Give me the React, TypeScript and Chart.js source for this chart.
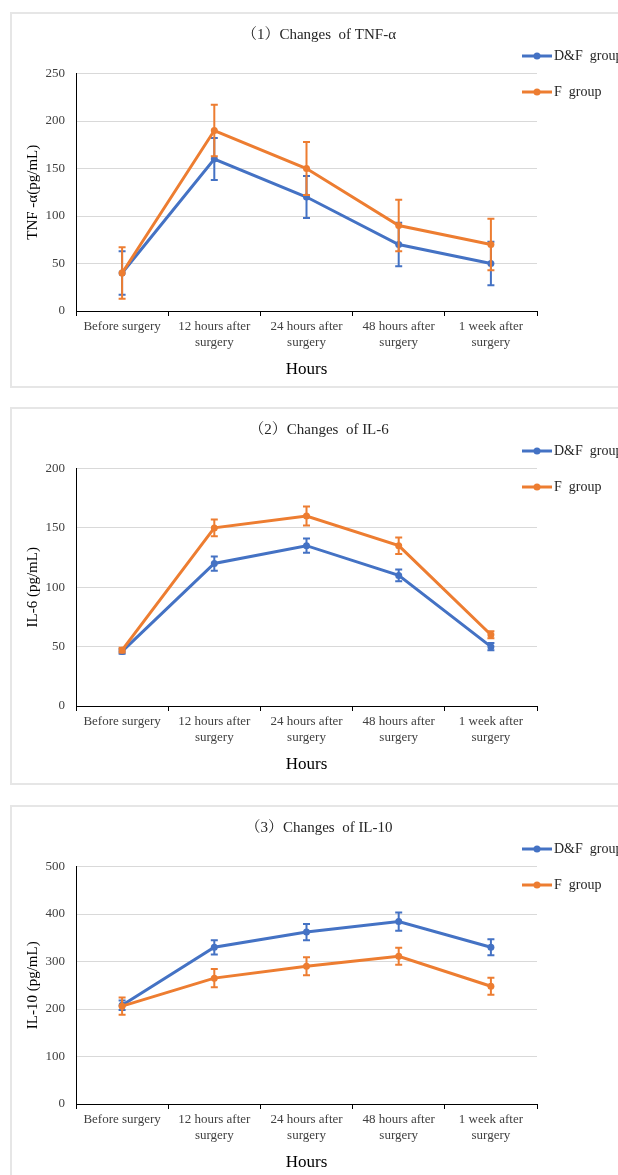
import React, { useEffect, useRef } from "react";
import { Chart, registerables } from "chart.js";
Chart.register(...registerables);

const categories: string[][] = [
  ["Before surgery"],
  ["12 hours after", "surgery"],
  ["24 hours after", "surgery"],
  ["48 hours after", "surgery"],
  ["1 week after", "surgery"],
];
const groupNames = ["D&F  group", "F  group"];
const groupColors = ["#4472C4", "#ED7D31"];
const xTitle = "Hours";

const tnfDF = [40, 160, 120, 70, 50];
const tnfDFErr = [23, 22, 22, 23, 23];
const tnfF = [40, 190, 150, 90, 70];
const tnfFErr = [27, 27, 28, 27, 27];

const il6DF = [46, 120, 135, 110, 50];
const il6DFErr = [2, 6, 6, 5, 3];
const il6F = [47, 150, 160, 135, 60];
const il6FErr = [2, 7, 8, 7, 3];

const il10DF = [208, 330, 362, 384, 330];
const il10DFErr = [10, 15, 17, 19, 17];
const il10F = [206, 265, 290, 311, 248];
const il10FErr = [18, 19, 19, 18, 18];

const panelTitles = ["（1）Changes  of TNF-α", "（2）Changes  of IL-6", "（3）Changes  of IL-10"];
const yTitles = ["TNF -α(pg/mL)", "IL-6 (pg/mL)", "IL-10 (pg/mL)"];
const yMaxes = [250, 200, 500];
const ySteps = [50, 50, 100];

const SERIF = "'Liberation Serif', 'Times New Roman', 'Noto Serif CJK SC', 'Noto Sans CJK SC', serif";
const TEXT = "#404040";
const CW = 660;
const CH = 380;
const AREA_TOP = 61.5;
const AREA_BOTTOM = 299;
const AREA_LEFT = 76;
const AREA_RIGHT = 537;
const XAXIS_H = 76;

type PanelProps = {
  top: number;
  boxH: number;
  title: string;
  yTitle: string;
  df: number[];
  dfErr: number[];
  f: number[];
  fErr: number[];
  yMax: number;
  yStep: number;
};

function Panel(p: PanelProps) {
  const ref = useRef<HTMLCanvasElement>(null);
  useEffect(() => {
    if (!ref.current) return;
    const overlay = {
      id: "overlay",
      afterDatasetDraw(chart: any, args: any) {
        const ds = chart.data.datasets[args.index];
        const errs: number[] = ds.errors;
        const yScale = chart.scales.y;
        const ctx = chart.ctx;
        ctx.save();
        ctx.strokeStyle = ds.borderColor;
        ctx.lineWidth = 2;
        args.meta.data.forEach((pt: any, i: number) => {
          const v = ds.data[i];
          const e = errs[i];
          const y1 = yScale.getPixelForValue(v + e);
          const y2 = yScale.getPixelForValue(v - e);
          const x = pt.x;
          ctx.beginPath();
          ctx.moveTo(x, y1);
          ctx.lineTo(x, y2);
          ctx.moveTo(x - 3.5, y1);
          ctx.lineTo(x + 3.5, y1);
          ctx.moveTo(x - 3.5, y2);
          ctx.lineTo(x + 3.5, y2);
          ctx.stroke();
        });
        ctx.restore();
      },
      afterDraw(chart: any) {
        const ctx = chart.ctx;
        ctx.save();
        ctx.fillStyle = "#262626";
        ctx.font = `15px ${SERIF}`;
        ctx.textAlign = "center";
        ctx.textBaseline = "middle";
        ctx.fillText(p.title, 319, 23);
        const ly = [44, 80];
        chart.data.datasets.forEach((ds: any, i: number) => {
          const y = ly[i];
          ctx.strokeStyle = ds.borderColor;
          ctx.lineWidth = 3;
          ctx.beginPath();
          ctx.moveTo(522, y);
          ctx.lineTo(552, y);
          ctx.stroke();
          ctx.fillStyle = ds.borderColor;
          ctx.beginPath();
          ctx.arc(537, y, 3.5, 0, Math.PI * 2);
          ctx.fill();
          ctx.fillStyle = "#262626";
          ctx.font = `14px ${SERIF}`;
          ctx.textAlign = "left";
          ctx.fillText(ds.label, 554, y);
        });
        ctx.restore();
      },
    };
    const mk = (i: number, data: number[], errs: number[], order: number) => ({
      label: groupNames[i],
      data,
      errors: errs,
      borderColor: groupColors[i],
      backgroundColor: groupColors[i],
      pointBackgroundColor: groupColors[i],
      pointBorderColor: groupColors[i],
      pointBorderWidth: 0,
      pointRadius: 3.5,
      borderWidth: 3,
      tension: 0,
      order,
    });
    const chart = new Chart(ref.current, {
      type: "line",
      data: {
        labels: categories as any,
        datasets: [mk(0, p.df, p.dfErr, 1), mk(1, p.f, p.fErr, 0)] as any,
      },
      options: {
        responsive: false,
        animation: false,
        layout: {
          padding: {
            top: AREA_TOP,
            left: 0,
            right: CW - AREA_RIGHT,
            bottom: CH - AREA_BOTTOM - XAXIS_H,
          },
        },
        plugins: {
          legend: { display: false },
          title: { display: false },
          tooltip: { enabled: false },
        },
        scales: {
          x: {
            type: "category",
            offset: true,
            grid: {
              offset: true,
              drawOnChartArea: false,
              drawTicks: true,
              tickLength: 5,
              color: "#000",
              lineWidth: 1,
            },
            border: { display: true, color: "#000", width: 1 },
            ticks: {
              color: TEXT,
              font: { family: SERIF, size: 13, lineHeight: 1.22 },
              padding: 3,
              maxRotation: 0,
              autoSkip: false,
            },
            title: {
              display: true,
              text: xTitle,
              color: "#000",
              font: { family: SERIF, size: 17 },
              padding: { top: 0, bottom: 7 },
            },
            afterFit: (s: any) => {
              s.height = XAXIS_H;
            },
          },
          y: {
            min: 0,
            max: p.yMax,
            ticks: {
              stepSize: p.yStep,
              color: TEXT,
              font: { family: SERIF, size: 13 },
              padding: 11,
            },
            grid: { color: "#d9d9d9", drawTicks: false, lineWidth: 1 },
            border: { display: true, color: "#000", width: 1 },
            title: {
              display: true,
              text: p.yTitle,
              color: "#000",
              font: { family: SERIF, size: 15 },
              padding: { top: 24.5, bottom: 0 },
            },
            afterFit: (s: any) => {
              s.width = AREA_LEFT;
            },
          },
        },
      } as any,
      plugins: [overlay],
    });
    return () => chart.destroy();
  }, []);
  return (
    <>
      <div
        style={{
          position: "absolute",
          left: 10,
          top: p.top,
          width: 700,
          height: p.boxH,
          border: "2px solid #e6e6e6",
          boxSizing: "border-box",
        }}
      />
      <canvas
        ref={ref}
        width={CW}
        height={CH}
        style={{ position: "absolute", left: 0, top: p.top, width: CW, height: CH }}
      />
    </>
  );
}

export default function App() {
  return (
    <div
      style={{
        position: "fixed",
        left: 0,
        top: 0,
        width: 618,
        height: 1175,
        overflow: "hidden",
        background: "#fff",
      }}
    >
      <Panel top={12} boxH={376} title={panelTitles[0]} yTitle={yTitles[0]} df={tnfDF} dfErr={tnfDFErr} f={tnfF} fErr={tnfFErr} yMax={yMaxes[0]} yStep={ySteps[0]} />
      <Panel top={407} boxH={378} title={panelTitles[1]} yTitle={yTitles[1]} df={il6DF} dfErr={il6DFErr} f={il6F} fErr={il6FErr} yMax={yMaxes[1]} yStep={ySteps[1]} />
      <Panel top={805} boxH={420} title={panelTitles[2]} yTitle={yTitles[2]} df={il10DF} dfErr={il10DFErr} f={il10F} fErr={il10FErr} yMax={yMaxes[2]} yStep={ySteps[2]} />
    </div>
  );
}
